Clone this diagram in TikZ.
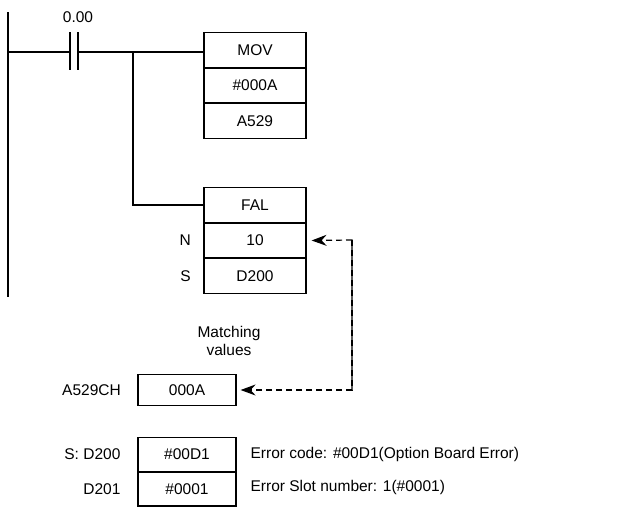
\documentclass[tikz,border=0pt]{standalone}
\usepackage{fontspec}
\setmainfont{Liberation Sans}
\usetikzlibrary{arrows.meta,positioning}
\tikzset{cell/.style={draw, minimum width=102pt, minimum height=34.3pt, inner sep=0pt, font=\fontsize{15.5}{18}\selectfont},
  lbl/.style={inner sep=0pt, font=\fontsize{15.5}{18}\selectfont},
  match/.style={dashed, dash pattern=on 6pt off 4pt, -{Stealth[length=15pt,width=11pt,inset=5pt]}}}
\begin{document}
\begin{tikzpicture}[x=1pt, y=-1pt, line width=1.2pt]
    \useasboundingbox (0,0) rectangle (637,507);
    % power rail and contact
    \coordinate (top) at (8,12);
    \coordinate (bot) at (8,297);
    \draw (top) -- (bot);
    \coordinate (rl) at (8,52);
    \coordinate (ca) at (70,52);
    \coordinate (cb) at (78,52);
    \coordinate (br) at (133,52);
    \draw (rl) -- (ca);
    \draw (70,32) -- (70,70);
    \draw (78,32) -- (78,70);
    \node[lbl] (bit) at (78,17) {0.00};
    % MOV block
    \node[cell] (mov) at (255,50) {MOV};
    \node[cell, below=0pt of mov] (src) {\#000A};
    \node[cell, below=0pt of src] (dst) {A529};
    % FAL block
    \node[cell] (fal) at (255,205) {FAL};
    \node[cell, below=0pt of fal] (num) {10};
    \node[cell, below=0pt of num] (msg) {D200};
    \node[lbl, left=12pt of num] {N};
    \node[lbl, left=12pt of msg] {S};
    \draw (cb) -- (cb -| mov.west);
    \draw (br) |- (fal.west);
    % A529 contents
    \node[cell, minimum height=31pt, minimum width=98pt] (chan) at (187,390) {000A};
    \node[lbl, left=16pt of chan] {A529CH};
    \node[lbl, align=center] (note) at (229,341) {Matching\\values};
    \coordinate (dr) at (352,240);
    \coordinate (dl) at (352,390);
    \draw[match] (dl) -- (dr) -- ([xshift=5pt]num.east);
    \draw[match] (dr) -- (dl) -- ([xshift=4pt]chan.east);
    % D200 / D201 contents
    \node[cell, minimum height=33.5pt, minimum width=98pt] (code) at (187,454.5) {\#00D1};
    \node[cell, minimum height=33.5pt, minimum width=98pt, below=0pt of code] (slot) {\#0001};
    \node[lbl, anchor=east] at (121,454) {S: D200};
    \node[lbl, anchor=east] at (121,489) {D201};
    \node[lbl, anchor=west] at (250,454) {Error code: \#00D1(Option Board Error)};
    \node[lbl, anchor=west] at (250,487) {Error Slot number: 1(\#0001)};
\end{tikzpicture}
\end{document}
